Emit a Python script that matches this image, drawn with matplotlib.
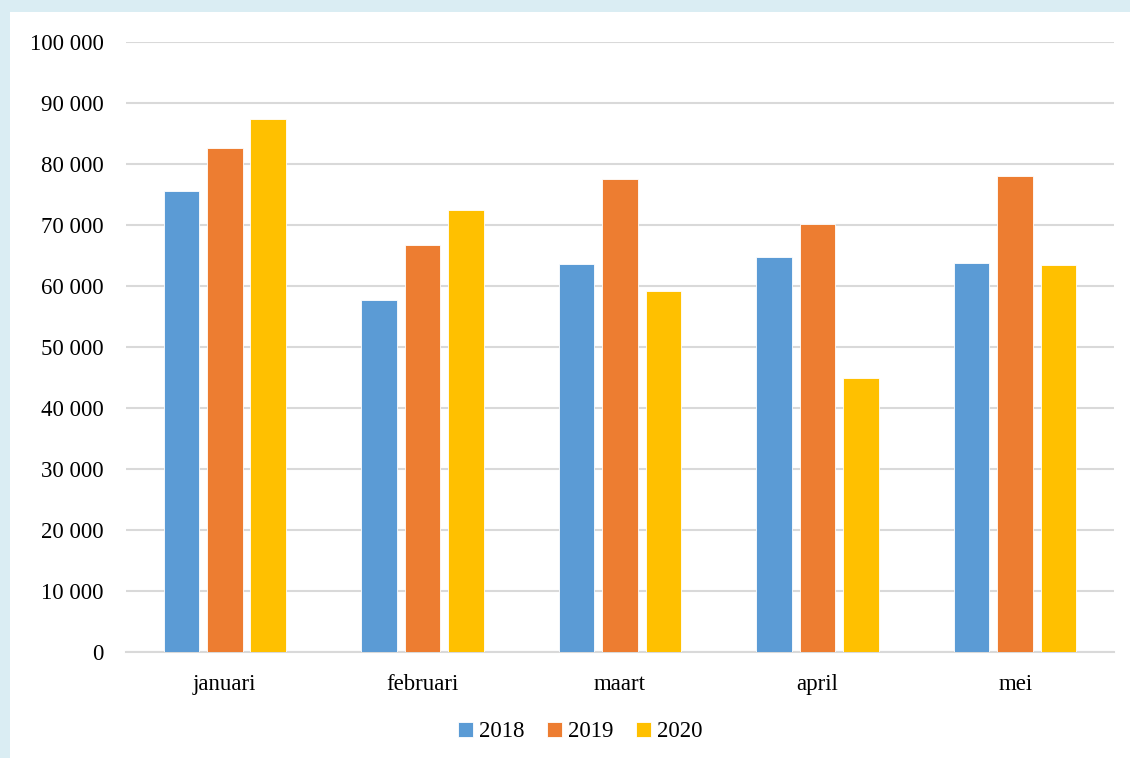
import numpy as np
import matplotlib.pyplot as plt
from matplotlib.patches import Rectangle

# data
maanden = ['januari', 'februari', 'maart', 'april', 'mei']
jaren = ['2018', '2019', '2020']
w2018 = [75500, 57700, 63600, 64800, 63700]
w2019 = [82600, 66800, 77500, 70200, 78000]
w2020 = [87400, 72500, 59200, 45000, 63400]
kleuren = ['#5B9BD5', '#ED7D31', '#FFC000']

plt.rcParams['font.family'] = ['Liberation Serif', 'DejaVu Serif']

fig = plt.figure(figsize=(11.3, 7.58), dpi=100)
fig.patch.set_facecolor('#DAEDF3')
# white chart area inside the light blue frame
fig.patches.append(Rectangle((10 / 1130, 0), 1, 1 - 12 / 758, transform=fig.transFigure,
                             facecolor='white', edgecolor='none', zorder=-10))

ax = fig.add_axes([0.1115, 0.1398, 0.8743, 0.8048])
ax.set_facecolor('none')

x = np.arange(len(maanden))
breedte = 0.18
afstand = 0.22
for i, (reeks, jaar) in enumerate(zip([w2018, w2019, w2020], jaren)):
    ax.bar(x + (i - 1) * afstand, reeks, breedte, color=kleuren[i], label=jaar,
           edgecolor='white', linewidth=0.6, zorder=3)

ax.set_ylim(0, 100000)
ax.set_xlim(-0.5, len(maanden) - 0.5)
ax.set_yticks(np.arange(0, 100001, 10000))
ax.set_yticklabels([f'{v:,}'.replace(',', ' ') for v in range(0, 100001, 10000)])
ax.set_xticks(x)
ax.set_xticklabels(maanden)
ax.tick_params(axis='both', length=0, labelsize=16.5, colors='black')
ax.tick_params(axis='y', pad=16)
ax.tick_params(axis='x', pad=16)
ax.grid(axis='y', color='#D9D9D9', linewidth=1.5, zorder=0)
for s in ['top', 'right', 'left']:
    ax.spines[s].set_visible(False)
ax.spines['bottom'].set_color('#D9D9D9')
ax.spines['bottom'].set_linewidth(1.5)

ax.legend(loc='center', bbox_to_anchor=(0.46, -0.131), ncol=3, frameon=False,
          fontsize=16.5, handlelength=0.65, handleheight=0.65, handletextpad=0.25,
          columnspacing=1.0)

fig.savefig('out.png', dpi=100, facecolor=fig.get_facecolor())
